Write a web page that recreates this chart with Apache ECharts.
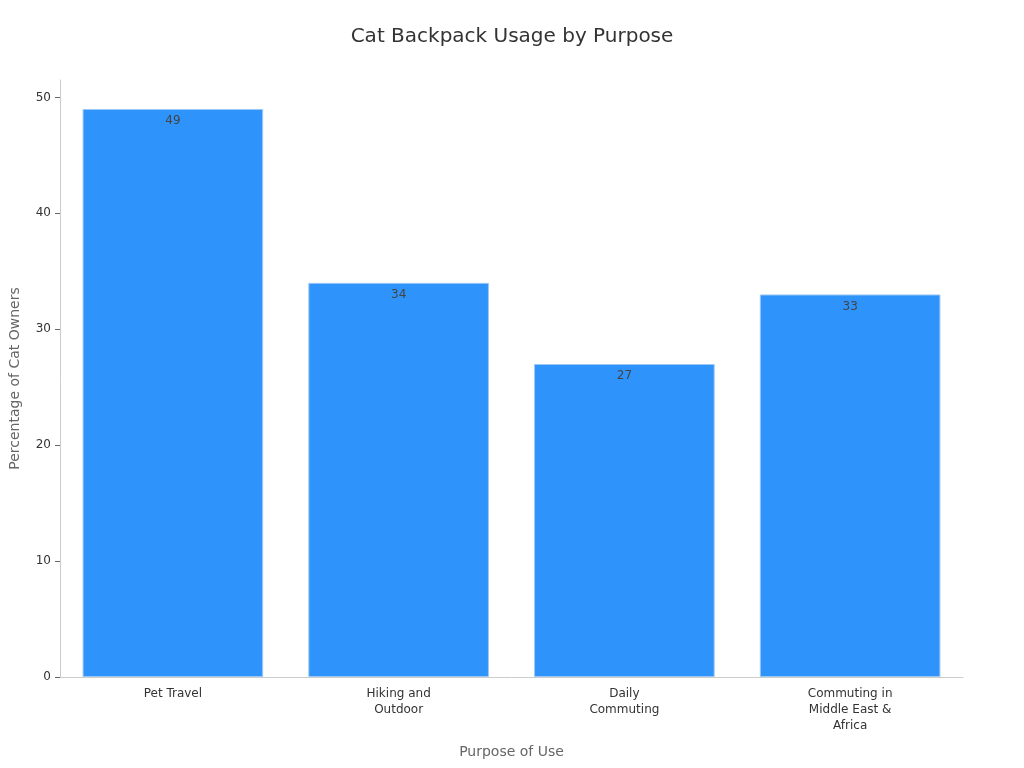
<!DOCTYPE html>
<html><head><meta charset="utf-8">
<script src="https://cdn.jsdelivr.net/npm/echarts@6/dist/echarts.min.js"></script>
<style>html,body{margin:0;padding:0;background:#fff}#c{width:1024px;height:768px}</style>
</head><body><div id="c"></div>
<script>
const categories = ["Pet Travel", "Hiking and\nOutdoor", "Daily\nCommuting", "Commuting in\nMiddle East &\nAfrica"];
const values = [49, 34, 27, 33];
const yTicks = [0, 10, 20, 30, 40, 50];

const chart = echarts.init(document.getElementById('c'));
chart.setOption({
  animation: false,
  textStyle: { fontFamily: 'DejaVu Sans' },
  title: { text: 'Cat Backpack Usage by Purpose', left: 'center', top: 22,
    textStyle: { fontSize: 20, fontWeight: 'normal', color: '#333', fontFamily: 'DejaVu Sans' } },
  grid: { left: 58, right: 61, top: 80, bottom: 91, containLabel: false },
  xAxis: {
    type: 'category', data: categories,
    name: 'Purpose of Use', nameLocation: 'middle', nameGap: 68,
    nameTextStyle: { fontSize: 14, color: '#666' },
    axisLine: { lineStyle: { color: '#ccc' } },
    axisTick: { alignWithLabel: true, lineStyle: { color: '#666' } },
    axisLabel: { fontSize: 12, color: '#333', lineHeight: 16, margin: 9 }
  },
  yAxis: {
    type: 'value', min: 0, max: 51.5, interval: 10,
    name: 'Percentage of Cat Owners', nameLocation: 'middle', nameGap: 38,
    nameTextStyle: { fontSize: 14, color: '#666' },
    axisLine: { show: true, lineStyle: { color: '#ccc' } },
    axisTick: { show: true, length: 5, lineStyle: { color: '#666' } },
    axisLabel: { fontSize: 12, color: '#333', showMaxLabel: false, margin: 9,
      formatter: v => yTicks.includes(v) ? String(v) : '' },
    splitLine: { show: false }
  },
  series: [{
    type: 'bar', data: values, barCategoryGap: '20%',
    itemStyle: { color: '#2E93FA', borderColor: '#9cc8f5', borderWidth: 1 },
    label: { show: true, position: 'insideTop', fontSize: 12, color: '#444', distance: 6 }
  }]
});
</script></body></html>
